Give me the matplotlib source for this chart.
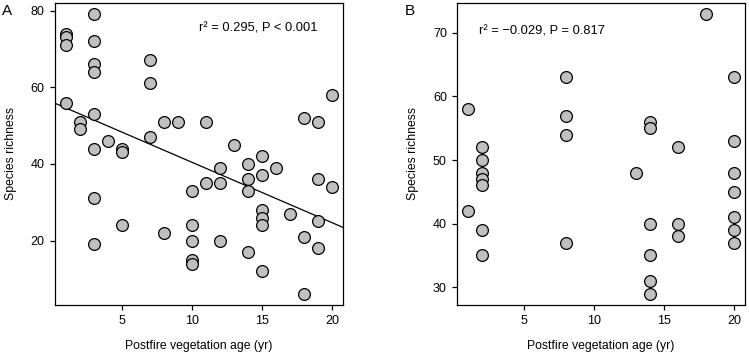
import numpy as np
import matplotlib
matplotlib.use('Agg')
import matplotlib.pyplot as plt

plt.rcParams['font.family'] = ['Liberation Sans', 'DejaVu Sans']

# Panel A: postfire age vs species richness
age_a = [1, 1, 1, 1, 2, 2, 3, 3, 3, 3, 3, 3, 3, 3, 4, 5, 5, 5, 7, 7, 7, 8, 8, 9,
         10, 10, 10, 10, 10, 11, 11, 12, 12, 12, 13, 14, 14, 14, 14,
         15, 15, 15, 15, 15, 15, 16, 17, 18, 18, 18, 19, 19, 19, 19, 20, 20]
rich_a = [74, 73, 71, 56, 51, 49, 79, 72, 66, 64, 53, 44, 31, 19, 46, 44, 43, 24, 67, 61, 47, 51, 22, 51,
          33, 24, 20, 15, 14, 51, 35, 39, 35, 20, 45, 40, 36, 33, 17,
          42, 37, 28, 26, 24, 12, 39, 27, 52, 21, 6, 51, 36, 25, 18, 58, 34]

# Panel B
age_b = [1, 1, 2, 2, 2, 2, 2, 2, 2, 8, 8, 8, 8, 13, 14, 14, 14, 14, 14, 14,
         16, 16, 16, 18, 20, 20, 20, 20, 20, 20, 20]
rich_b = [58, 42, 52, 50, 48, 47, 46, 39, 35, 63, 57, 54, 37, 48, 56, 55, 40, 35, 31, 29,
          52, 40, 38, 73, 63, 53, 48, 45, 41, 39, 37]

stat_a = 'r\u00b2 = 0.295, P < 0.001'
stat_b = 'r\u00b2 = \u22120.029, P = 0.817'

fig = plt.figure(figsize=(7.49, 3.54), dpi=100)
ax_a = fig.add_axes([55 / 749, 49 / 354, 288 / 749, 302 / 354])
ax_b = fig.add_axes([457.3 / 749, 49 / 354, 287.7 / 749, 302 / 354])

dot = dict(s=72, facecolor='#c0c0c0', edgecolor='black', linewidths=0.9, zorder=3)

ax_a.scatter(age_a, rich_a, **dot)
ax_a.set_xlim(0.19, 20.76)
ax_a.set_ylim(3.2, 82)
# least squares line over the full width
slope, icpt = np.polyfit(age_a, rich_a, 1)
xs = np.array(ax_a.get_xlim())
ax_a.plot(xs, slope * xs + icpt, color='black', lw=0.9, zorder=2)
ax_a.set_xticks([5, 10, 15, 20])
ax_a.set_yticks([20, 40, 60, 80])
ax_a.text(0.913, 0.917, stat_a, transform=ax_a.transAxes, ha='right', va='center', fontsize=9.3)

ax_b.scatter(age_b, rich_b, **dot)
ax_b.set_xlim(0.27, 20.76)
ax_b.set_ylim(27.2, 74.7)
ax_b.set_xticks([5, 10, 15, 20])
ax_b.set_yticks([30, 40, 50, 60, 70])
ax_b.text(0.075, 0.907, stat_b, transform=ax_b.transAxes, ha='left', va='center', fontsize=9.3)

for ax in (ax_a, ax_b):
    for sp in ax.spines.values():
        sp.set_linewidth(0.9)
    ax.tick_params(direction='out', length=3.5, width=0.9, labelsize=9, pad=4)
    ax.set_xlabel('Postfire vegetation age (yr)', fontsize=8.8, labelpad=9)
    ax.set_ylabel('Species richness', fontsize=8.8, labelpad=10)

fig.text(2 / 749, 1 - 11 / 354, 'A', fontsize=11, va='center', ha='left')
fig.text(405 / 749, 1 - 11 / 354, 'B', fontsize=11, va='center', ha='left')

fig.savefig('out.png', dpi=100)
